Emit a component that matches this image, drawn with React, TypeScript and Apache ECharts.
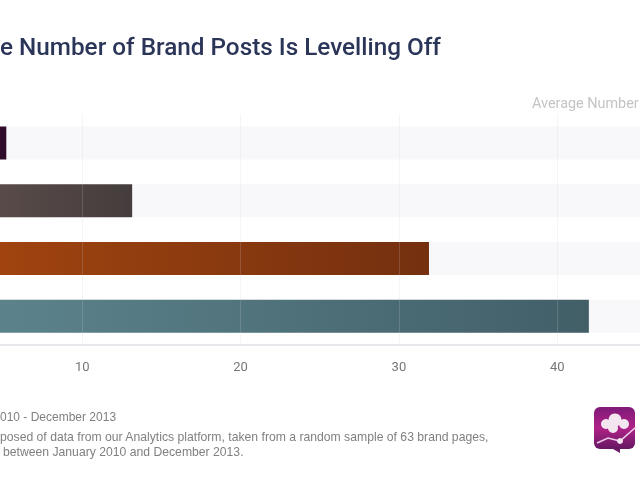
import React, { useEffect, useRef } from "react";
import * as echarts from "echarts";

const categories = ["Row 1", "Row 2", "Row 3", "Row 4"];
const values = [5.2, 13.15, 31.9, 42];
const startColors = ["#3f1236", "#63534f", "#a8470f", "#5f8790"];
const endColors = ["#2e0c2a", "#453d3d", "#74300f", "#425f68"];
const tickLabels = ["10", "20", "30", "40"];
const titleText = "e Number of Brand Posts Is Levelling Off";
const axisTitle = "Average Number";
const footerLines = [
  "010 - December 2013",
  "posed of data from our Analytics platform, taken from a random sample of 63 brand pages,",
  "between January 2010 and December 2013.",
];

export default function App() {
  const ref = useRef<HTMLDivElement>(null);
  useEffect(() => {
    const chart = echarts.init(ref.current!, undefined, { renderer: "svg" });
    const font = "Roboto, sans-serif";
    const footFont = "'Liberation Sans', Arial, sans-serif";
    chart.setOption({
      animation: false,
      backgroundColor: "#ffffff",
      grid: { left: -76, right: -75.5, top: 114, height: 231, containLabel: false, outerBoundsMode: "none" },
      xAxis: {
        type: "value",
        min: 0,
        max: 50,
        interval: 10,
        z: 3,
        axisLine: { show: false },
        axisTick: { show: false },
        axisLabel: {
          margin: 15,
          color: "#77777a",
          fontFamily: font,
          fontSize: 13,
          formatter: (v: number) => (tickLabels.includes(String(v)) ? String(v) : ""),
        },
        splitLine: { show: true, lineStyle: { color: "rgba(205,205,215,0.2)", width: 1 } },
      },
      yAxis: {
        type: "category",
        inverse: true,
        data: categories,
        axisLine: { show: false },
        axisTick: { show: false },
        axisLabel: { show: false },
      },
      series: [
        {
          type: "bar",
          barWidth: 33,
          showBackground: true,
          backgroundStyle: { color: "#f8f8fb" },
          data: values.map((v, i) => ({
            value: v,
            itemStyle: {
              color: new echarts.graphic.LinearGradient(0, 0, 1, 0, [
                { offset: 0, color: startColors[i] },
                { offset: 1, color: endColors[i] },
              ]),
            },
          })),
        },
      ],
      graphic: [
        { type: "line", shape: { x1: 0, y1: 345, x2: 640, y2: 345 }, style: { stroke: "#e8e8ec", lineWidth: 2 } },
        { type: "text", x: 0, y: 34, style: { text: titleText, fill: "#2b3558", font: `500 24.3px ${font}` } },
        { type: "text", x: 532, y: 96, style: { text: axisTitle, fill: "#c4c4c7", font: `14.4px ${font}` } },
        { type: "text", x: 0, y: 411, style: { text: footerLines[0], fill: "#808083", font: `12px ${footFont}` } },
        { type: "text", x: 0, y: 431, style: { text: footerLines[1], fill: "#808083", font: `12.2px ${footFont}` } },
        { type: "text", x: 3, y: 446, style: { text: footerLines[2], fill: "#808083", font: `12.2px ${footFont}` } },
        {
          type: "group",
          children: [
            {
              type: "polygon",
              shape: { points: [[606, 445], [620, 445], [620, 453]] },
              style: { fill: "#6e1a66" },
            },
            {
              type: "rect",
              shape: { x: 594, y: 407, width: 41, height: 42, r: 6 },
              style: {
                fill: new echarts.graphic.LinearGradient(0, 0, 0, 1, [
                  { offset: 0, color: "#7e1a78" },
                  { offset: 0.5, color: "#b02288" },
                  { offset: 1, color: "#651862" },
                ]),
              },
            },
            { type: "circle", shape: { cx: 606, cy: 424, r: 5 }, style: { fill: "#f4e6f0" } },
            { type: "circle", shape: { cx: 615, cy: 420, r: 6.5 }, style: { fill: "#f4e6f0" } },
            { type: "circle", shape: { cx: 624, cy: 424, r: 5 }, style: { fill: "#f4e6f0" } },
            { type: "circle", shape: { cx: 613, cy: 428, r: 5 }, style: { fill: "#f4e6f0" } },
            {
              type: "polyline",
              shape: { points: [[597, 443], [608, 438], [620, 441], [636, 427]] },
              style: { stroke: "#eecbe6", lineWidth: 1.6, fill: "none" },
            },
            { type: "circle", shape: { cx: 620, cy: 441, r: 3 }, style: { fill: "#f4e6f0" } },
          ],
        },
      ],
    });
    return () => chart.dispose();
  }, []);
  return (
    <div
      ref={ref}
      style={{ position: "fixed", left: 0, top: 0, width: 640, height: 480, filter: "blur(0.7px)" }}
    />
  );
}
